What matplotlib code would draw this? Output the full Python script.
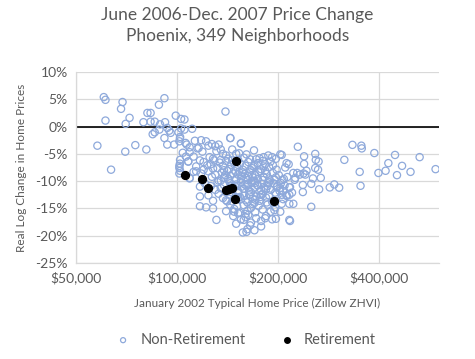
import numpy as np
import matplotlib
matplotlib.use("Agg")
import matplotlib.pyplot as plt
from matplotlib.ticker import FixedLocator, NullLocator, FuncFormatter

plt.rcParams['font.family'] = ['Lato', 'DejaVu Sans']

# January 2002 ZHVI (thousands of $) and real log price change (%)
nonret_price = [
    # sparse, left of $100k
    60.5, 61.2, 68.8, 68.1, 61.2, 72.2, 70.3, 57.9, 63.6, 70.1, 75.1, 81.0, 81.6, 83.4,
    79.4, 83.4, 85.8, 84.6, 85.8, 88.3, 91.7, 89.0, 88.6, 92.1, 93.5, 94.8, 95.7, 91.7,
    93.5, 98.0, 99.1, 102.8, 105.2, 102.8, 102.1, 101.6, 102.1, 101.6, 102.1, 106.3,
    106.8, 110.9, 101.0, 101.6, 105.2, 139.4, 144.2, 155.0, 169.5,
    # sparse, right side
    333, 354, 355, 387, 229, 258, 239, 205, 212, 239, 259, 264, 315, 446, 528, 426, 468,
    418, 452, 496, 589, 350, 398, 258, 263, 243, 241, 222, 228, 232, 213, 208, 224, 254,
    268, 237, 251, 216, 285, 294, 304, 265, 352, 237, 217, 220, 216, 212, 205, 207, 205,
    216, 222, 251, 217, 203, 238, 204, 225,
    # main cluster
    102, 106, 113, 118, 122, 127, 130, 133, 144, 155, 109, 116, 124,
    104, 109, 115, 119, 125, 131, 135, 137, 142, 146, 150, 153, 158, 165, 172, 181, 187,
    192, 203, 112, 128, 140, 161, 176, 197,
    102, 108, 114, 117, 120, 123, 126, 129, 132, 134, 137, 140, 143, 145, 148, 151, 154,
    157, 160, 163, 167, 170, 174, 178, 183, 188, 193, 198, 210, 215, 120, 128, 135, 146,
    152, 165, 180, 190, 101.6, 108, 114, 109,
    109, 112, 118, 124, 127, 130, 133, 136, 138, 141, 144, 147, 150, 153, 156, 159, 162,
    165, 168, 171, 174, 177, 181, 185, 189, 193, 197, 201, 206, 135, 142, 149, 160, 170,
    183, 195, 119, 139, 152, 163, 175, 188,
    117, 121, 126, 132, 135, 138, 141, 144, 147, 150, 152, 155, 158, 161, 164, 167, 170,
    173, 176, 179, 182, 186, 190, 194, 198, 202, 140, 156, 166, 178, 188, 130, 145, 159,
    171, 184,
    117, 124, 128, 133, 137, 143, 146, 152, 155, 158, 162, 165, 168, 172, 176, 180, 184,
    188, 192, 197, 149, 160, 170, 185, 140, 141, 154, 178,
    117, 122, 128, 144, 148, 151, 154, 158, 162, 166, 171, 175, 180, 186, 190, 196, 160,
    168, 140, 152, 195,
    131, 147, 155, 160, 166, 172, 178, 184, 192, 197, 150, 158, 183, 216,
    157, 162, 170, 178, 165, 161,
    # extra points in the densest part
    143, 149, 155, 162, 168, 174, 180, 186, 199, 207, 212, 146, 152, 158, 164, 171,
    177, 196, 203, 209, 138, 157, 169, 181, 148, 163,
]
nonret_change = [
    5.4, 4.9, 4.5, 3.25, 1.1, 1.6, 0.5, -3.5, -7.9, -4.6, -3.4, -4.2, 2.5, 2.5,
    0.8, 0.9, 0.9, -1.4, -1.05, 4.0, 5.2, 0.4, -0.55, 0.8, -0.25, -0.75, -1.15, -2.1,
    -3.3, -3.3, 2.0, 1.4, 1.3, -0.35, -1.9, -2.7, -6.1, -7.2, -8.1, -5.5,
    -3.3, -0.4, -1.05, -8.6, -0.55, 2.75, -2.1, -3.1, -4.35,
    -3.35, -3.5, -4.0, -4.85, -3.7, -5.0, -5.45, -5.2, -6.7, -6.85, -6.1, -6.4, -6.1, -5.2, -5.6, -6.7, -7.2,
    -8.1, -8.9, -8.3, -7.8, -8.3, -8.5, -7.6, -7.9, -8.1, -8.8, -8.5, -8.5, -8.8, -9.25, -9.6, -9.75, -9.5,
    -9.4, -10.7, -10.5, -11.15, -11.15, -10.6, -11.2, -11.5, -10.85, -12.0, -11.1, -12.1, -12.5, -12.7, -12.5, -13.3, -14.15,
    -14.15, -14.15, -14.7, -17.3, -15.6, -8.6, -10.35, -9.4,
    -2.2, -3.0, -2.6, -2.5, -2.7, -3.2, -3.6, -3.3, -2.1, -3.1, -3.8, -3.9, -3.5,
    -4.8, -4.7, -4.0, -4.6, -5.6, -4.5, -4.2, -5.0, -5.9, -4.2, -5.0, -4.9, -5.7, -6.0, -6.0, -5.6, -5.3,
    -5.6, -5.1, -5.5, -5.9, -5.3, -5.1, -5.8, -5.9,
    -6.8, -6.4, -7.3, -6.2, -6.5, -7.1, -6.9, -6.2, -7.6, -6.6, -7.2, -6.3, -7.8, -7.0, -6.6, -7.4, -6.8,
    -7.9, -7.2, -6.5, -7.6, -7.0, -6.7, -7.8, -6.9, -7.4, -7.1, -7.9, -7.5, -6.9, -7.9, -7.7, -6.1, -6.2,
    -6.1, -7.9, -6.3, -6.4, -7.6, -6.4, -8.2, -9.4,
    -9.5, -8.3, -8.6, -8.2, -9.2, -8.8, -9.9, -8.4, -9.4, -8.1, -9.0, -8.6, -9.7, -8.3, -9.1, -8.7, -9.8,
    -8.4, -9.3, -8.9, -9.6, -8.2, -9.2, -8.7, -9.9, -8.5, -9.3, -8.9, -9.8, -9.9, -9.6, -8.2, -9.4, -10.0,
    -8.1, -9.7, -9.9, -8.9, -8.8, -9.0, -8.4, -9.5,
    -11.0, -10.4, -10.9, -10.2, -11.3, -10.7, -11.9, -10.4, -11.1, -10.6, -11.8, -10.2, -11.4, -10.8, -11.7, -10.3, -11.2,
    -10.7, -11.9, -10.5, -11.3, -10.9, -11.6, -10.4, -11.1, -11.8, -12.0, -11.0, -12.0, -11.6, -10.2, -11.6, -10.9, -10.6,
    -10.3, -11.5,
    -12.8, -12.6, -13.6, -12.3, -13.1, -12.5, -13.7, -12.2, -13.3, -12.7, -13.9, -12.4, -13.2, -12.8, -13.6, -12.3, -13.0,
    -12.6, -13.8, -12.4, -12.9, -13.5, -14.0, -13.9, -13.5, -13.7, -12.9, -12.5,
    -14.6, -14.8, -15.0, -14.3, -15.1, -14.6, -15.8, -14.4, -15.4, -14.9, -15.7, -14.5, -15.2, -14.3, -15.6, -14.8, -16.0,
    -14.2, -15.5, -15.9, -15.3,
    -17.1, -16.4, -17.0, -16.6, -17.6, -16.8, -17.3, -16.4, -17.0, -16.9, -17.8, -17.1, -16.8, -17.1,
    -19.4, -18.8, -19.0, -18.3, -18.1, -19.3,
    -10.0, -10.9, -9.6, -10.5, -9.9, -10.8, -9.8, -10.4, -10.9, -11.8, -12.6, -12.1, -13.1, -11.4, -12.6, -13.4,
    -12.9, -12.1, -11.3, -10.8, -8.0, -8.4, -7.3, -7.3, -15.6, -16.2,
]

ret_price = [105.6, 119, 124, 140, 143, 145.6, 149, 150, 194]
ret_change = [-8.86, -9.6, -11.25, -11.7, -11.4, -11.25, -13.3, -6.4, -13.6]

W, H = 475, 359
fig = plt.figure(figsize=(W / 100, H / 100), dpi=100)
ax = fig.add_axes([76 / W, 1 - 263 / H, (439 - 76) / W, (263 - 72) / H])

blue = '#8EA9DB'
grey_txt = '#595959'

ax.scatter(np.array(nonret_price) * 1000, nonret_change, s=27, facecolors='none',
           edgecolors=blue, linewidths=0.9, zorder=3, label='Non-Retirement')
ax.scatter(np.array(ret_price) * 1000, ret_change, s=32, color='black',
           zorder=4, label='Retirement')

ax.set_xscale('log')
ax.set_xlim(50000, 603000)
ax.set_ylim(-25, 10)
ax.xaxis.set_major_locator(FixedLocator([50000, 100000, 200000, 400000]))
ax.xaxis.set_minor_locator(NullLocator())
ax.xaxis.set_major_formatter(FuncFormatter(lambda v, p: f"${v:,.0f}"))
ax.set_yticks(np.arange(-25, 11, 5))
ax.yaxis.set_major_formatter(FuncFormatter(lambda v, p: f"{v:.0f}%"))

ax.grid(True, color='#D9D9D9', linewidth=0.9, zorder=0)
ax.set_axisbelow(True)
for side in ['top', 'right']:
    ax.spines[side].set_visible(False)
for side in ['left', 'bottom']:
    ax.spines[side].set_color('#D9D9D9')
    ax.spines[side].set_linewidth(0.9)
ax.axhline(0, color='black', linewidth=1.2, zorder=2)
ax.tick_params(length=0, labelsize=10, colors=grey_txt, pad=6)

ax.set_xlabel('January 2002 Typical Home Price (Zillow ZHVI)', fontsize=8.5,
              color=grey_txt, labelpad=10)
ax.set_ylabel('Real Log Change in Home Prices', fontsize=8.5, color=grey_txt,
              labelpad=6)
fig.suptitle('June 2006-Dec. 2007 Price Change\nPhoenix, 349 Neighborhoods',
             fontsize=12.5, color=grey_txt, y=0.98, linespacing=1.35)

leg = fig.legend(loc='center', bbox_to_anchor=(0.51, 1 - 340 / H), ncol=2,
                 frameon=False, fontsize=10.5, handletextpad=0.2,
                 columnspacing=1.8, markerscale=0.7)
for t in leg.get_texts():
    t.set_color(grey_txt)

fig.savefig('out.png', dpi=100)
